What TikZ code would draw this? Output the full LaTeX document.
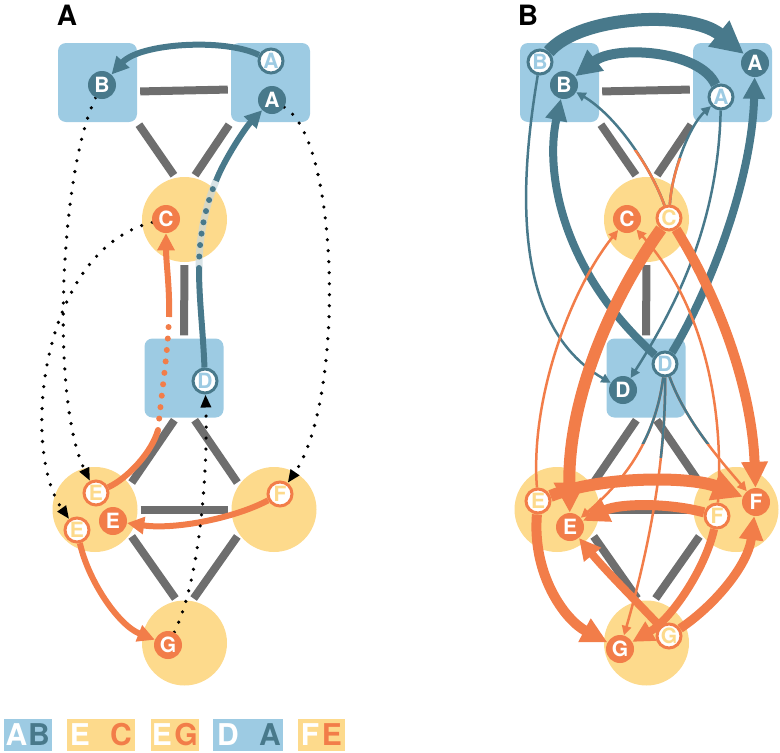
\documentclass[tikz,border=0pt]{standalone}
\usepackage{fontspec}
\setmainfont{TeX Gyre Heros}
\usepackage{tikz}
\usetikzlibrary{arrows.meta,positioning}
\definecolor{regionblue}{RGB}{157,203,227}
\definecolor{regionyellow}{RGB}{253,218,140}
\definecolor{pathteal}{RGB}{72,121,139}
\definecolor{pathorange}{RGB}{242,125,73}
\definecolor{wallgray}{RGB}{110,110,110}
\newcommand{\letterfont}{\fontsize{21}{21}\selectfont\bfseries}
\newcommand{\panelfont}{\fontsize{28}{28}\selectfont\bfseries}
\newcommand{\keyfont}{\fontsize{30}{30}\selectfont\bfseries}
\pgfdeclarelayer{regions}
\pgfdeclarelayer{flows}
\pgfsetlayers{regions,flows,main}

\begin{document}
\begin{tikzpicture}[
    x=1pt, y=-1pt,
    box/.style={rectangle, rounded corners=8pt, fill=regionblue, minimum size=79pt, inner sep=0pt},
    blob/.style={circle, fill=regionyellow, minimum size=85pt, inner sep=0pt},
    link/.style={draw=wallgray, line width=8pt, shorten <=3pt, shorten >=3pt},
    tealdot/.style={circle, fill=pathteal, text=white, minimum size=28pt, inner sep=0pt, font=\letterfont},
    orangedot/.style={circle, fill=pathorange, text=white, minimum size=28pt, inner sep=0pt, font=\letterfont},
    tealring/.style={circle, fill=white, draw=pathteal, line width=3pt, text=regionblue, minimum size=24pt, inner sep=0pt, font=\letterfont},
    orangering/.style={circle, fill=white, draw=pathorange, line width=3pt, text=regionyellow, minimum size=24pt, inner sep=0pt, font=\letterfont},
    flow/.style={line width=#1, -{Triangle[length=4pt 2.2, width=4pt 2.1]}},
    flow/.default=6pt,
    bare/.style={line width=#1},
    bare/.default=6pt,
    dots/.style={line width=6pt, dash pattern=on 0pt off 11.5pt, line cap=round},
    hop/.style={line width=3.6pt, dash pattern=on 0pt off 11pt, line cap=round, -{Triangle[length=13pt, width=10pt]}},
    keybox/.style={rectangle, minimum height=32pt, inner sep=0pt},
    keytext/.style={inner sep=0pt, font=\keyfont}
]
\useasboundingbox (0,0) rectangle (780,753);

% regions and walls, same layout in both panels
\begin{pgfonlayer}{regions}
\foreach \p/\dx in {a/0,b/462}{
  \node[box]  (\p boxB)  at (\dx+97.5,82.5) {};
  \node[box]  (\p boxA)  at (\dx+270.5,82.5) {};
  \node[blob] (\p blobC) at (\dx+184.5,219.5) {};
  \node[box]  (\p boxD)  at (\dx+184,378) {};
  \node[blob] (\p blobE) at (\dx+95,509.5) {};
  \node[blob] (\p blobF) at (\dx+274,509.5) {};
  \node[blob] (\p blobG) at (\dx+184.5,643) {};
  \draw[link] ([yshift=-9pt]\p boxB.east) -- ([yshift=-7pt]\p boxA.west);
  \draw[link] (\p boxB.south east) -- (\p blobC.102);
  \draw[link] (\p boxA.south west) -- (\p blobC.78);
  \draw[link] (\p blobC.south) -- (\p boxD.north);
  \draw[link] ([xshift=-8pt]\p boxD.south) -- (\p blobE.35);
  \draw[link] ([xshift=9pt]\p boxD.south) -- (\p blobF.145);
  \draw[link] (\p blobE.east) -- (\p blobF.west);
  \draw[link] (\p blobE.-35) -- (\p blobG.100);
  \draw[link] (\p blobF.-145) -- (\p blobG.80);
}
\end{pgfonlayer}

% Panel A
\node[font=\panelfont] (titleA) at (67,15) {A};
\node[tealdot]    (aB)   at (102,85)  {B};
\node[tealring]   (aAo)  at (271,61)  {A};
\node[tealdot]    (aA)   at (272,100) {A};
\node[orangedot]  (aC)   at (166,219) {C};
\node[tealring]   (aDo)  at (205,381) {D};
\node[orangering] (aEo)  at (96,493)  {E};
\node[orangering] (aEo2) at (77,530)  {E};
\node[orangedot]  (aE)   at (113,521) {E};
\node[orangering] (aFo)  at (280,494) {F};
\node[orangedot]  (aG)   at (168,645) {G};

% Panel B
\node[font=\panelfont] (titleB) at (528,15) {B};
\node[tealring]   (bBo) at (540,62)  {B};
\node[tealdot]    (bB)  at (564,85)  {B};
\node[tealdot]    (bA)  at (755,63)  {A};
\node[tealring]   (bAo) at (721,97)  {A};
\node[orangedot]  (bC)  at (627,219) {C};
\node[orangering] (bCo) at (669,218) {C};
\node[tealdot]    (bD)  at (623,390) {D};
\node[tealring]   (bDo) at (665,364) {D};
\node[orangering] (bEo) at (538,501) {E};
\node[orangedot]  (bE)  at (570,527) {E};
\node[orangedot]  (bF)  at (756,502) {F};
\node[orangering] (bFo) at (717,516) {F};
\node[orangedot]  (bG)  at (620,649) {G};
\node[orangering] (bGo) at (669,636) {G};

\begin{pgfonlayer}{flows}
% Panel A flows
\draw[flow, pathteal] (aAo) .. controls (225,38) and (140,43) .. (aB);
\coordinate (tUp1) at (199,268);
\coordinate (tUp2) at (216,181);
\draw[bare, pathteal] (aDo) .. controls (203,330) and (199,300) .. (tUp1);
\draw[line width=7pt, pathteal!30, opacity=.7] (tUp1) .. controls (199,230) and (208,200) .. (tUp2);
\draw[dots, pathteal] (tUp1) .. controls (199,230) and (208,200) .. (tUp2);
\draw[flow, pathteal] (tUp2) .. controls (224,160) and (245,128) .. (aA);
\coordinate (oUp1) at (158,430);
\coordinate (oUp2) at (169,317);
\draw[bare, pathorange] (aEo) .. controls (128,478) and (152,452) .. (oUp1);
\draw[dots, pathorange] (oUp1) .. controls (162,390) and (168,350) .. (oUp2);
\draw[flow, pathorange] (oUp2) .. controls (170,290) and (166,262) .. (aC);
\draw[flow, pathorange] (aFo) .. controls (235,518) and (175,530) .. (aE);
\draw[flow, pathorange] (aEo2) .. controls (88,580) and (118,625) .. (aG);
% dotted hops
\draw[hop] (aB) .. controls (60,170) and (50,400) .. (aEo);
\draw[hop] (aC) .. controls (40,250) and (20,450) .. (aEo2);
\draw[hop] (aA) .. controls (340,140) and (345,400) .. (aFo);
\draw[hop] (aG) .. controls (200,580) and (208,470) .. (aDo);

% Panel B, teal
\draw[flow=13pt, pathteal] (bBo) .. controls (580,15) and (690,10) .. (bA);
\draw[flow=10pt, pathteal] (bAo) .. controls (700,50) and (615,45) .. (bB);
\draw[flow=8pt, pathteal] (bDo) .. controls (560,270) and (545,170) .. (bB);
\draw[flow=8pt, pathteal] (bDo) .. controls (710,290) and (752,180) .. (bA);
\draw[flow=2.5pt, pathteal] (bBo) .. controls (515,210) and (520,330) .. (bD);
\draw[flow=2.5pt, pathteal] (bAo) .. controls (718,220) and (680,300) .. (bD);
% colour changes half way
\draw[flow=2.5pt, pathteal] (bCo) .. controls (650,165) and (615,115) .. (bB);
\draw[flow=2.5pt, pathteal] (bCo) .. controls (672,170) and (690,125) .. (bAo);
\begin{scope}
  \clip (560,150) rectangle (700,240);
  \draw[bare=2.5pt, pathorange] (bCo) .. controls (650,165) and (615,115) .. (bB);
\end{scope}
\begin{scope}
  \clip (560,158) rectangle (700,240);
  \draw[bare=2.5pt, pathorange] (bCo) .. controls (672,170) and (690,125) .. (bAo);
\end{scope}
\draw[flow=2.5pt, pathorange] (bDo) .. controls (655,440) and (625,480) .. (bE);
\draw[flow=2.5pt, pathorange] (bDo) .. controls (666,480) and (640,580) .. (bG);
\draw[flow=2.5pt, pathorange] (bDo) .. controls (685,420) and (720,460) .. (bF);
\begin{scope}
  \clip (600,360) rectangle (740,443);
  \draw[bare=2.5pt, pathteal] (bDo) .. controls (655,440) and (625,480) .. (bE);
  \draw[bare=2.5pt, pathteal] (bDo) .. controls (685,420) and (720,460) .. (bF);
\end{scope}
\begin{scope}
  \clip (600,360) rectangle (740,457);
  \draw[bare=2.5pt, pathteal] (bDo) .. controls (666,480) and (640,580) .. (bG);
\end{scope}
% Panel B, orange
\draw[flow=2.5pt, pathorange] (bEo) .. controls (530,400) and (570,290) .. (bC);
\draw[flow=2.5pt, pathorange] (bFo) .. controls (725,400) and (700,300) .. (bC);
\draw[flow=12pt, pathorange] (bCo) .. controls (610,300) and (568,400) .. (bE);
\draw[flow=10pt, pathorange] (bCo) .. controls (720,300) and (752,390) .. (bF);
\draw[flow=12pt, pathorange] (bEo) .. controls (600,476) and (690,476) .. (bF);
\draw[flow=10pt, pathorange] (bFo) .. controls (670,503) and (620,503) .. (bE);
\draw[flow=10pt, pathorange] (bEo) .. controls (532,575) and (565,620) .. (bG);
\draw[flow=8pt, pathorange] (bGo) .. controls (640,605) and (605,570) .. (bE);
\draw[flow=9pt, pathorange] (bGo) .. controls (715,605) and (748,565) .. (bF);
\draw[flow=8pt, pathorange] (bFo) .. controls (705,570) and (670,620) .. (bG);
\end{pgfonlayer}

% key
\node[keybox, fill=regionblue, minimum width=48pt]   (keyAB) at (28,735) {};
\node[keytext, text=white]      (keyABa) at (16.5,735) {A};
\node[keytext, text=pathteal]   (keyABb) at (39,735) {B};
\node[keybox, fill=regionyellow, minimum width=68pt] (keyEC) at (101,735) {};
\node[keytext, text=white]      (keyECa) at (80,735) {E};
\node[keytext, text=pathorange] (keyECb) at (121,735) {C};
\node[keybox, fill=regionyellow, minimum width=48pt] (keyEG) at (175,735) {};
\node[keytext, text=white]      (keyEGa) at (162,735) {E};
\node[keytext, text=pathorange] (keyEGb) at (186,735) {G};
\node[keybox, fill=regionblue, minimum width=70pt]   (keyDA) at (248,735) {};
\node[keytext, text=white]      (keyDAa) at (228,735) {D};
\node[keytext, text=pathteal]   (keyDAb) at (270,735) {A};
\node[keybox, fill=regionyellow, minimum width=47pt] (keyFE) at (321.5,735) {};
\node[keytext, text=white]      (keyFEa) at (310,735) {F};
\node[keytext, text=pathorange] (keyFEb) at (332,735) {E};

\end{tikzpicture}
\end{document}
